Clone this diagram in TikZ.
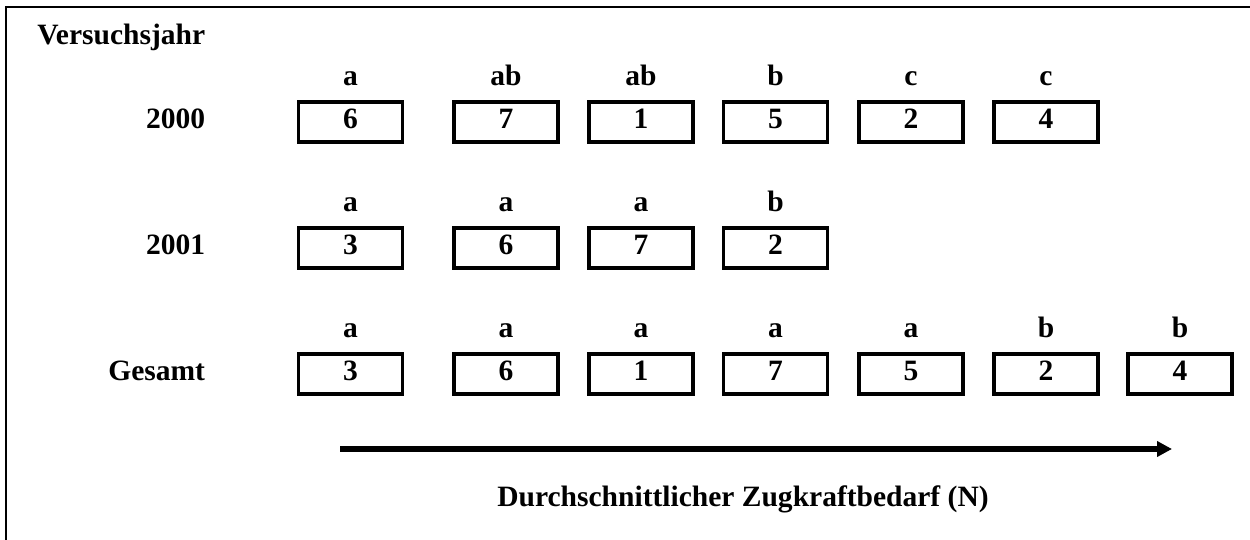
\documentclass[tikz,border=0pt]{standalone}
\usepackage{fontspec}
\setmainfont{Liberation Serif}
\usetikzlibrary{positioning,arrows.meta}
\tikzset{
  txt/.style={inner sep=0pt,font=\fontsize{16.8}{20}\selectfont\bfseries},
  box/.style={txt,draw,line width=0.065cm,minimum width=2.08cm,minimum height=0.80cm,text depth=0.12cm},
  yr/.style={txt,text depth=0.12cm},
  grp/.style={txt}
}

\begin{document}
\begin{tikzpicture}[x=0.02cm,y=-0.02cm]
\useasboundingbox (0,0) rectangle (1250,540);
\draw[line width=0.045cm] (6,540)--(6,7)--(1250,7);

\node[txt,anchor=base west] (head) at (37,45) {Versuchsjahr};

% 2000
\node[box] (a1) at (350.5,122) {6};
\node[box] (a2) at (506,122) {7};
\node[box] (a3) at (641,122) {1};
\node[box] (a4) at (775.5,122) {5};
\node[box] (a5) at (911,122) {2};
\node[box] (a6) at (1046,122) {4};
\node[yr,left=1.83cm of a1] (y1) {2000};
\node[grp,above=0.28cm of a1] {a};
\node[grp,above=0.28cm of a2] {ab};
\node[grp,above=0.28cm of a3] {ab};
\node[grp,above=0.28cm of a4] {b};
\node[grp,above=0.28cm of a5] {c};
\node[grp,above=0.28cm of a6] {c};

% 2001
\node[box] (b1) at (350.5,248) {3};
\node[box] (b2) at (506,248) {6};
\node[box] (b3) at (641,248) {7};
\node[box] (b4) at (775.5,248) {2};
\node[yr,left=1.83cm of b1] (y2) {2001};
\node[grp,above=0.28cm of b1] {a};
\node[grp,above=0.28cm of b2] {a};
\node[grp,above=0.28cm of b3] {a};
\node[grp,above=0.28cm of b4] {b};

% Gesamt
\node[box] (g1) at (350.5,374) {3};
\node[box] (g2) at (506,374) {6};
\node[box] (g3) at (641,374) {1};
\node[box] (g4) at (775.5,374) {7};
\node[box] (g5) at (911,374) {5};
\node[box] (g6) at (1046,374) {2};
\node[box] (g7) at (1180,374) {4};
\node[yr,left=1.83cm of g1] (y3) {Gesamt};
\node[grp,above=0.28cm of g1] {a};
\node[grp,above=0.28cm of g2] {a};
\node[grp,above=0.28cm of g3] {a};
\node[grp,above=0.28cm of g4] {a};
\node[grp,above=0.28cm of g5] {a};
\node[grp,above=0.28cm of g6] {b};
\node[grp,above=0.28cm of g7] {b};

% Achse
\coordinate (s) at (340,449);
\coordinate (e) at (1172,449);
\draw[line width=0.11cm,-{Triangle[length=0.3cm,width=0.3cm]}] (s)--(e);
\node[txt,anchor=base] (axis) at (743,506) {Durchschnittlicher Zugkraftbedarf (N)};
\end{tikzpicture}
\end{document}
